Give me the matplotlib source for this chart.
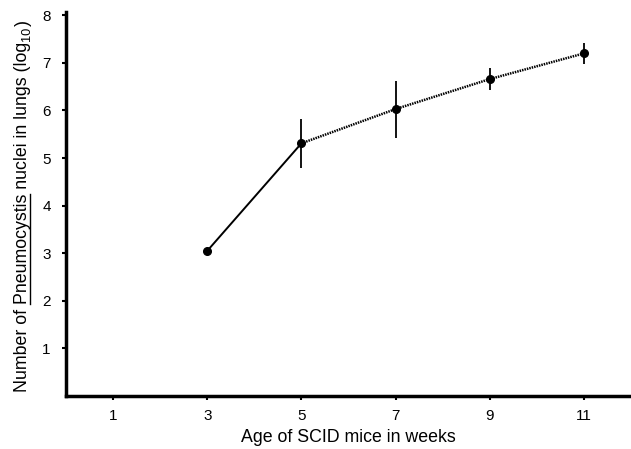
import matplotlib
matplotlib.use("Agg")
import matplotlib.pyplot as plt
from matplotlib.lines import Line2D

plt.rcParams['font.family'] = ['Liberation Sans', 'DejaVu Sans']

weeks = [3, 5, 7, 9, 11]
nuclei_log = [3.05, 5.31, 6.03, 6.66, 7.20]
errors = [0.0, 0.52, 0.60, 0.23, 0.22]
xticks = [1, 3, 5, 7, 9, 11]
yticks = [1, 2, 3, 4, 5, 6, 7, 8]

W, H = 631, 449
fig = plt.figure(figsize=(W / 100, H / 100), dpi=100)
ax = fig.add_axes([66 / W, 53 / H, 565 / W, 384 / H])

# solid first segment, dotted rest
ax.plot(weeks[:2], nuclei_log[:2], color="black", lw=1.4)
ax.plot(weeks[1:], nuclei_log[1:], color="black", lw=1.8, linestyle=(0, (0.6, 0.4)))
ax.errorbar(weeks[1:], nuclei_log[1:], yerr=errors[1:], fmt="none", ecolor="black",
            elinewidth=1.3, capsize=0)
ax.plot(weeks, nuclei_log, "o", color="black", markersize=5.5)

ax.set_xlim(0, 12)
ax.set_ylim(0, 8.07)
ax.set_xticks(xticks)
ax.set_yticks(yticks)
ax.tick_params(direction="out", length=3, width=1.5, labelsize=11)
ax.tick_params(axis="x", pad=6)
ax.tick_params(axis="y", pad=8)
for side in ["top", "right"]:
    ax.spines[side].set_visible(False)
for side in ["left", "bottom"]:
    ax.spines[side].set_linewidth(2.5)

ax.set_xlabel("Age of SCID mice in weeks", fontsize=12.8, labelpad=5)

# y label built from pieces so the genus name can be underlined
fs = 12.8
xc = 23 / W
ybot = 57 / H
main = "Number of Pneumocystis nuclei in lungs (log"
t1 = fig.text(xc, ybot, main, rotation=90, ha="center", va="bottom", fontsize=fs)
fig.canvas.draw()
renderer = fig.canvas.get_renderer()
bb = t1.get_window_extent(renderer)
prop = t1.get_fontproperties()
w_pre = renderer.get_text_width_height_descent("Number of ", prop, ismath=False)[0]
w_word = renderer.get_text_width_height_descent("Pneumocystis", prop, ismath=False)[0]
descent = renderer.get_text_width_height_descent(main, prop, ismath=False)[2]

t2 = fig.text((bb.x1 + 1) / W, (bb.y1 + 1) / H, "10", rotation=90, ha="right",
              va="bottom", fontsize=fs * 0.72)
fig.canvas.draw()
bb2 = t2.get_window_extent(renderer)
fig.text(xc, (bb2.y1 + 1) / H, ")", rotation=90, ha="center", va="bottom", fontsize=fs)

x_line = bb.x1 - descent + 2
y0 = bb.y0 + w_pre
y1 = y0 + w_word
fig.add_artist(Line2D([x_line / W] * 2, [y0 / H, y1 / H],
                      color="black", lw=1.0, transform=fig.transFigure))

fig.savefig("out.png", dpi=100)
